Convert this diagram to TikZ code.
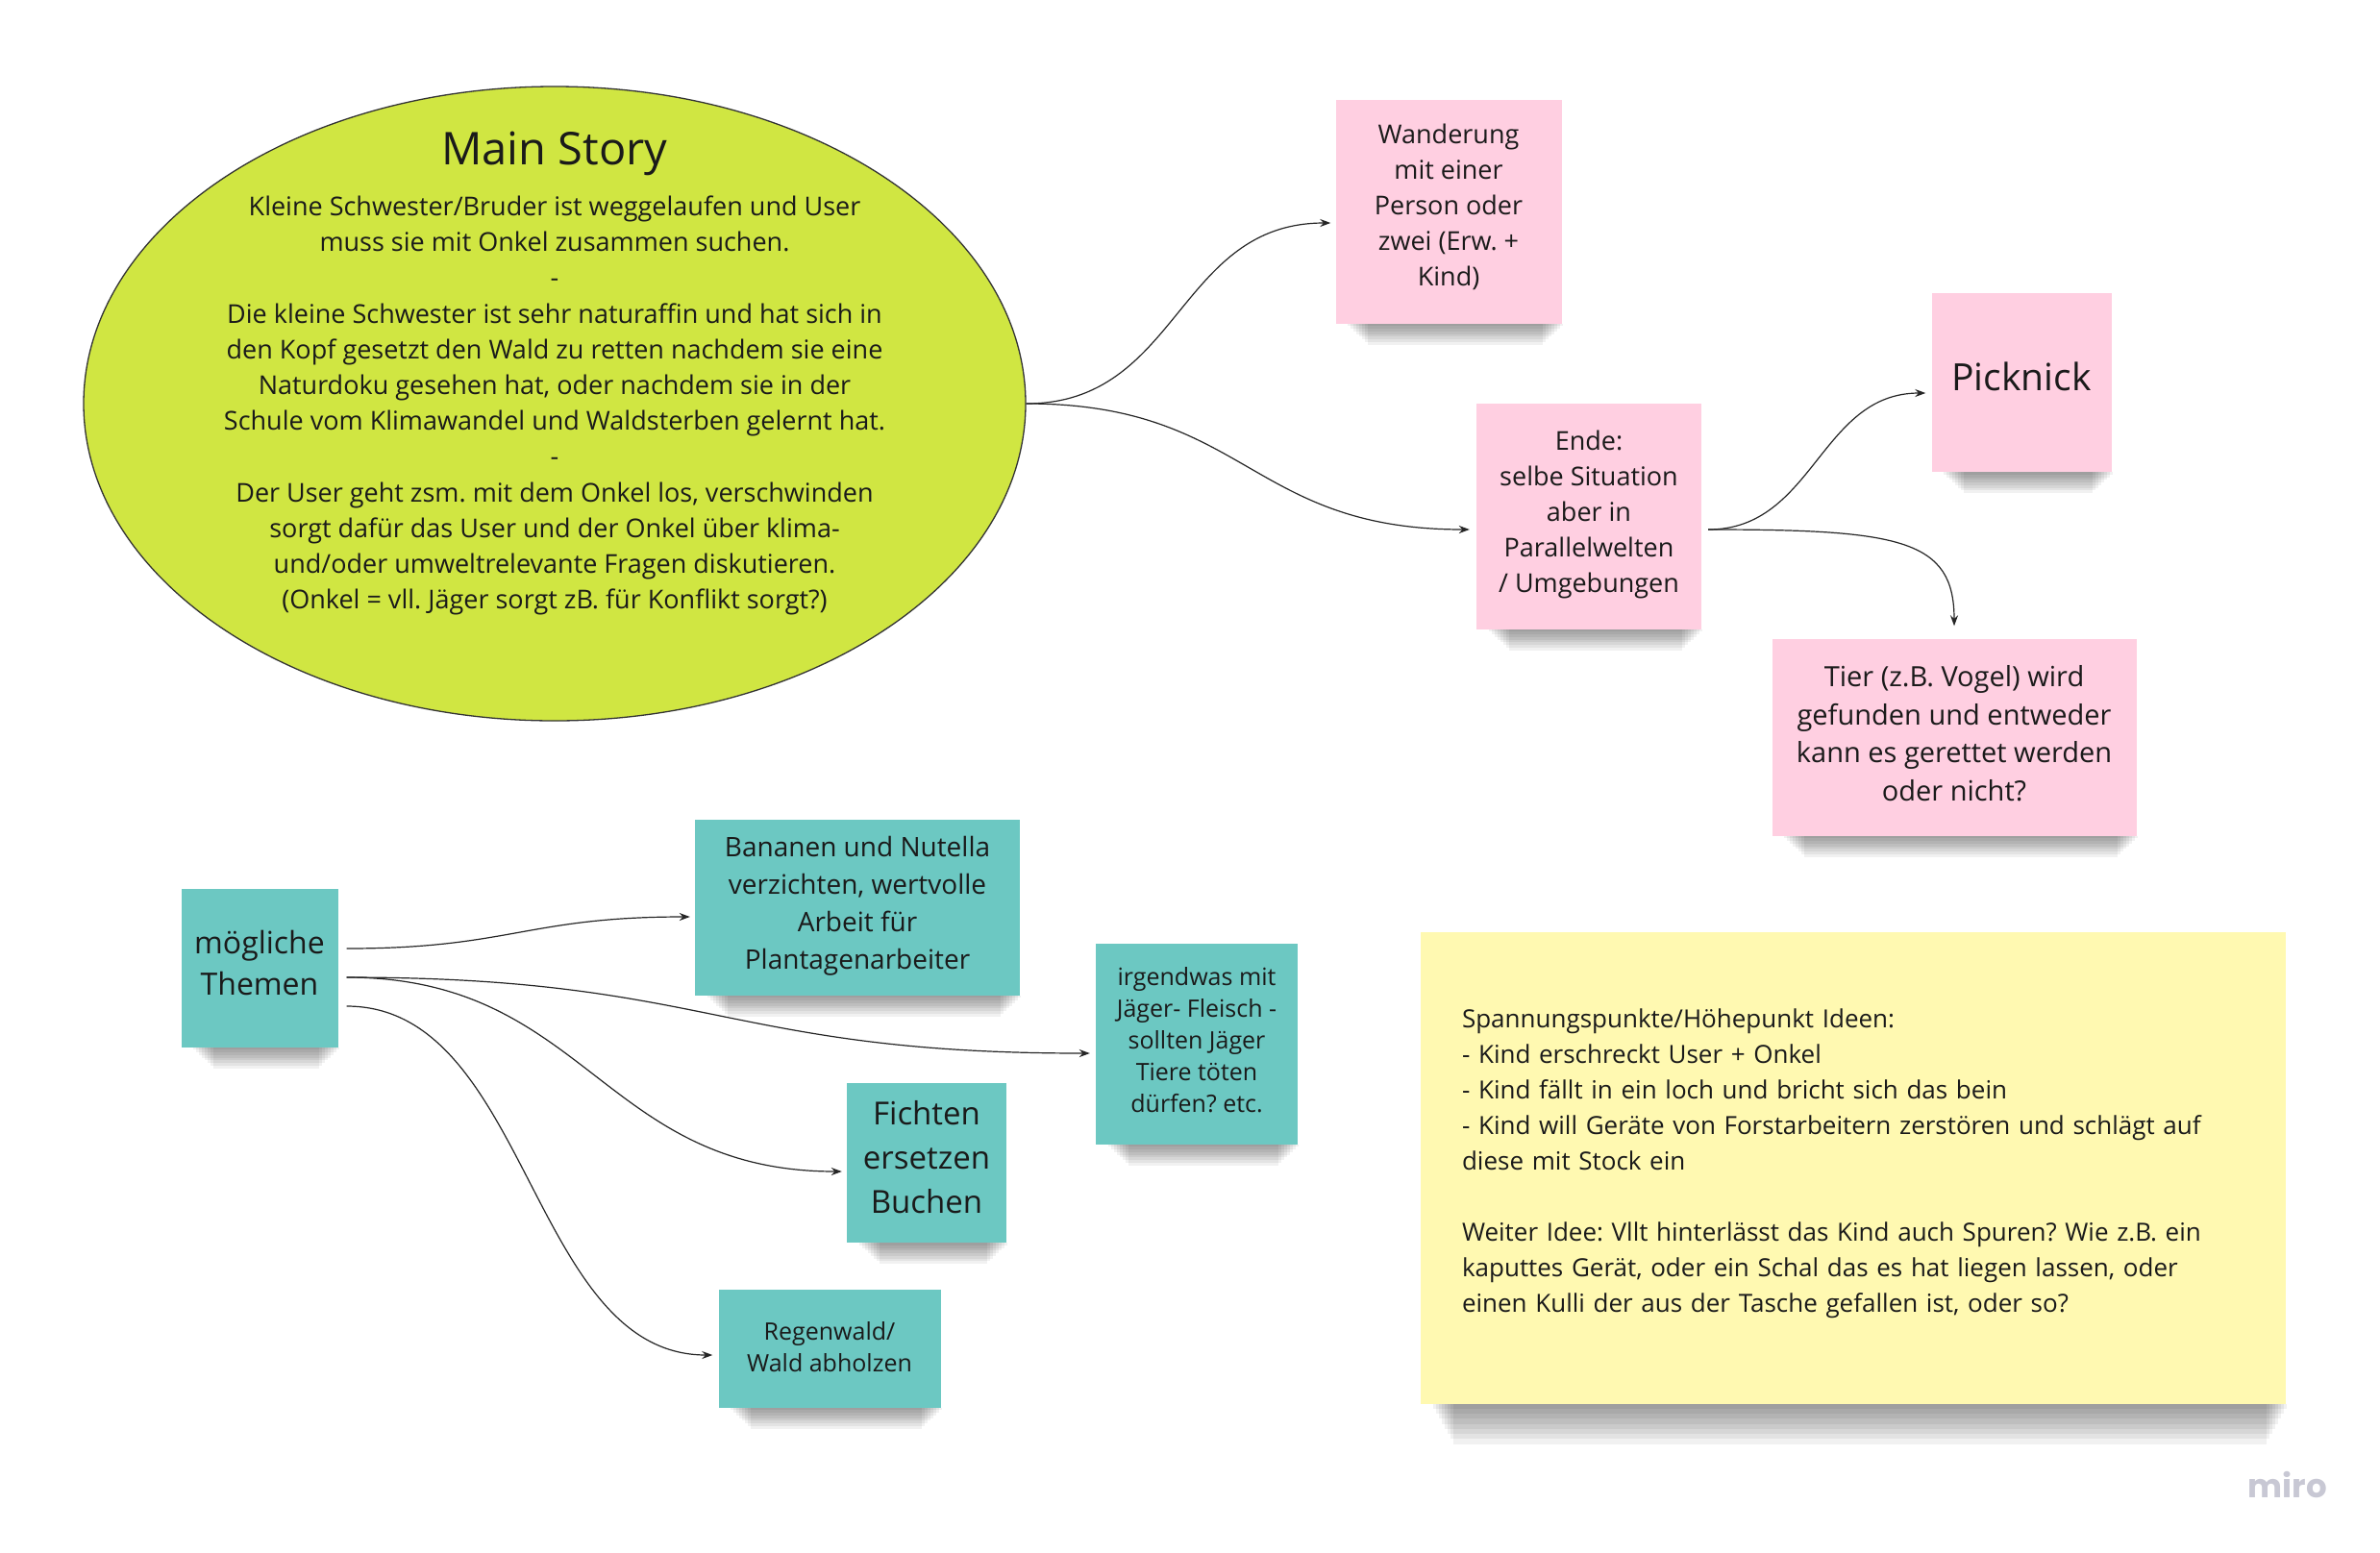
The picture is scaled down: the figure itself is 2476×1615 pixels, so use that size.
\documentclass[tikz,border=0pt]{standalone}
\usepackage{fontspec}
\setmainfont{Open Sans}
\newfontfamily\logofont{Poppins}
\frenchspacing
\usetikzlibrary{shapes.geometric,arrows.meta,backgrounds}
\definecolor{pinknote}{HTML}{FFCFE1}
\definecolor{tealnote}{HTML}{6CC8C2}
\definecolor{yellownote}{HTML}{FFF9B1}
\definecolor{limeell}{HTML}{D0E642}
\definecolor{inktext}{HTML}{1A1A1A}
\definecolor{logogray}{HTML}{C8C8D4}
\tikzset{
 note/.style={rectangle, inner sep=0pt, align=center, text=inktext},
 pinkbox/.style={note, fill=pinknote},
 tealbox/.style={note, fill=tealnote},
 txt/.style={align=center, text=inktext, inner sep=0pt},
 conn/.style={draw=black!85, line width=1.2pt, -{Stealth[length=11pt,width=8pt]}},
 fs/.style args={#1/#2}{font=\fontsize{#1}{#2}\selectfont}
}
% soft shadow under a note: stacked translucent bands
\newcommand{\noteshadow}[2][22]{%
 \foreach \k in {1,...,8}{%
  \fill[black, opacity=0.055] ([xshift={(10+3*\k)*1pt}]#2.south west) rectangle ([xshift={(4-3*\k)*1pt}, yshift={-\k*#1/8*1pt}]#2.south east);
 }}
\begin{document}
\begin{tikzpicture}[x=1pt,y=-1pt]
\useasboundingbox (0,0) rectangle (2476,1615);

\node[ellipse, draw=black!80, line width=1.3pt, fill=limeell, minimum width=980pt, minimum height=660pt, inner sep=0pt] (ell) at (577,420) {};
\node[txt, fs=47/56] (title) at (577,160) {Main Story};
\node[txt, fs=27/37.2] (body) at (577,422) {Kleine Schwester/Bruder ist weggelaufen und User\\muss sie mit Onkel zusammen suchen.\\-\\Die kleine Schwester ist sehr naturaffin und hat sich in\\den Kopf gesetzt den Wald zu retten nachdem sie eine\\Naturdoku gesehen hat, oder nachdem sie in der\\Schule vom Klimawandel und Waldsterben gelernt hat.\\-\\Der User geht zsm. mit dem Onkel los, verschwinden\\sorgt dafür das User und der Onkel über klima-\\und/oder umweltrelevante Fragen diskutieren.\\(Onkel = vll. Jäger sorgt zB. für Konflikt sorgt?)};

\node[pinkbox, minimum width=235pt, minimum height=233pt, label={[name=wanT, txt, fs=27/37, yshift=5pt]center:{Wanderung\\mit einer\\Person oder\\zwei (Erw. +\\Kind)}}] (wan) at (1507,220) {};
\node[pinkbox, minimum width=234pt, minimum height=235pt, label={[name=endeT, txt, fs=27/37, yshift=2pt]center:{Ende:\\selbe Situation\\aber in\\Parallelwelten\\/ Umgebungen}}] (ende) at (1653,537) {};
\node[pinkbox, minimum width=187pt, minimum height=186pt, label={[name=pickT, txt, fs=39/48, yshift=6pt]center:{Picknick}}] (pick) at (2103,398) {};
\node[pinkbox, minimum width=379pt, minimum height=205pt, label={[name=tierT, txt, fs=29/39.5, yshift=4pt]center:{Tier (z.B. Vogel) wird\\gefunden und entweder\\kann es gerettet werden\\oder nicht?}}] (tier) at (2033,767) {};

\node[tealbox, minimum width=163pt, minimum height=165pt, label={[name=thmT, txt, fs=32/43, yshift=5pt]center:{mögliche\\Themen}}] (thm) at (270,1007) {};
\node[tealbox, minimum width=338pt, minimum height=183pt, label={[name=banT, txt, fs=28/39, yshift=1pt]center:{Bananen und Nutella\\verzichten, wertvolle\\Arbeit für\\Plantagenarbeiter}}] (ban) at (892,944) {};
\node[tealbox, minimum width=210pt, minimum height=209pt, label={[name=irgT, txt, fs=25/33, yshift=4pt]center:{irgendwas mit\\Jäger- Fleisch -\\sollten Jäger\\Tiere töten\\dürfen? etc.}}] (irg) at (1245,1086) {};
\node[tealbox, minimum width=166pt, minimum height=166pt, label={[name=ficT, txt, fs=33/46, yshift=6pt]center:{Fichten\\ersetzen\\Buchen}}] (fic) at (964,1210) {};
\node[tealbox, minimum width=231pt, minimum height=123pt, label={[name=regT, txt, fs=25/33, yshift=1.5pt]center:{Regenwald/\\Wald abholzen}}] (reg) at (863,1403) {};

\node[note, fill=yellownote, minimum width=900pt, minimum height=491pt, label={[name=ideaT, txt, align=left, text width=814pt, fs=26/37, yshift=4pt]center:{Spannungspunkte/Höhepunkt Ideen:\\- Kind erschreckt User + Onkel\\- Kind fällt in ein loch und bricht sich das bein\\- Kind will Geräte von Forstarbeitern zerstören und schlägt auf\\diese mit Stock ein\\[37pt]Weiter Idee: Vllt hinterlässt das Kind auch Spuren? Wie z.B. ein\\kaputtes Gerät, oder ein Schal das es hat liegen lassen, oder\\einen Kulli der aus der Tasche gefallen ist, oder so?}}] (idea) at (1928,1215) {};

\node[text=logogray, inner sep=0pt, font=\logofont\bfseries\fontsize{34}{40}\selectfont] (logo) at (2380,1545) {miro};

\draw[conn] (ell.east) .. controls +(160,0) and +(-160,0) .. ([xshift=-5pt,yshift=-12pt]wan.west);
\draw[conn] (ell.east) .. controls +(230,0) and +(-230,0) .. ([xshift=-7pt,yshift=-14pt]ende.west);
\draw[conn] ([xshift=7pt,yshift=-14pt]ende.east) .. controls +(110,0) and +(-110,0) .. ([xshift=-6pt,yshift=-11pt]pick.west);
\draw[conn] ([xshift=7pt,yshift=-14pt]ende.east) .. controls +(200,0) and +(0,-90) .. ([yshift=13pt]tier.north);
\draw[conn] ([xshift=9pt,yshift=20pt]thm.east) .. controls +(170,0) and +(-170,0) .. ([xshift=-5pt,yshift=-10pt]ban.west);
\draw[conn] ([xshift=9pt,yshift=-10pt]thm.east) .. controls +(380,0) and +(-380,0) .. ([xshift=-6pt,yshift=-10pt]irg.west);
\draw[conn] ([xshift=9pt,yshift=-10pt]thm.east) .. controls +(250,0) and +(-250,0) .. ([xshift=-5pt,yshift=-9pt]fic.west);
\draw[conn] ([xshift=9pt,yshift=-40pt]thm.east) .. controls +(190,0) and +(-190,0) .. ([xshift=-6pt,yshift=-7pt]reg.west);

\begin{scope}[on background layer]
\fill[white] (0,0) rectangle (2476,1615);
\noteshadow{wan}
\noteshadow{ende}
\noteshadow{pick}
\noteshadow{tier}
\noteshadow{thm}
\noteshadow{ban}
\noteshadow{irg}
\noteshadow{fic}
\noteshadow{reg}
\noteshadow[42]{idea}
\end{scope}
\end{tikzpicture}
\end{document}
